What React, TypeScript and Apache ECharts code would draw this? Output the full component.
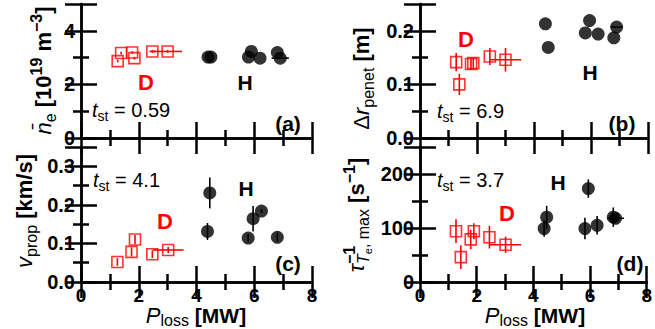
import React, { useEffect, useRef } from 'react';
import * as echarts from 'echarts';

const FONT = '"Liberation Sans", Arial, Helvetica, sans-serif';
const RED = '#ff0000';

// ---- Panel (a): line-averaged density ----
const aDx = [1.27, 1.39, 1.77, 1.85, 2.47, 3.0];
const aDy = [2.87, 3.17, 3.19, 2.98, 3.23, 3.23];
const aDxErr = [0, 0, 0, 0, 0.1, 0.5];
const aDyErr = [0.05, 0.05, 0.05, 0.05, 0.05, 0.05];
const aHx = [4.4, 4.5, 5.8, 5.9, 6.2, 6.8, 6.9];
const aHy = [3.02, 3.02, 3.02, 3.23, 2.98, 3.19, 2.98];
const aHxErr = [0, 0, 0, 0, 0, 0, 0.3];
const aHyErr = [0, 0, 0, 0, 0, 0, 0];

// ---- Panel (b): penetration depth ----
const bDx = [1.27, 1.38, 1.79, 1.87, 2.45, 3.0];
const bDy = [0.1415, 0.1, 0.138, 0.1396, 0.152, 0.146];
const bDxErr = [0, 0, 0, 0, 0, 0.55];
const bDyErr = [0.017, 0.02, 0.01, 0.01, 0.016, 0.022];
const bHx = [4.4, 4.5, 5.8, 5.95, 6.25, 6.8, 6.9];
const bHy = [0.213, 0.169, 0.196, 0.219, 0.194, 0.187, 0.207];
const bHxErr = [0, 0, 0, 0, 0, 0, 0.2];
const bHyErr = [0, 0, 0, 0, 0, 0, 0];

// ---- Panel (c): propagation velocity ----
const cDx = [1.26, 1.75, 1.87, 2.47, 3.02];
const cDy = [0.052, 0.078, 0.11, 0.072, 0.083];
const cDxErr = [0, 0, 0, 0, 0.53];
const cDyErr = [0.01, 0.012, 0.012, 0.01, 0.008];
const cHx = [4.38, 4.46, 5.79, 5.96, 6.25, 6.8];
const cHy = [0.131, 0.231, 0.114, 0.164, 0.184, 0.116];
const cHxErr = [0, 0, 0, 0, 0, 0];
const cHyErr = [0.022, 0.04, 0.01, 0.033, 0.005, 0.012];

// ---- Panel (d): inverse time scale ----
const dDx = [1.27, 1.44, 1.79, 1.9, 2.45, 3.02];
const dDy = [94, 46, 79, 94, 83, 69];
const dDxErr = [0, 0, 0, 0, 0, 0.55];
const dDyErr = [22, 22, 18, 15, 21, 15];
const dHx = [4.38, 4.47, 5.82, 5.94, 6.25, 6.82, 6.9];
const dHy = [99, 120, 99, 173, 105, 120, 118];
const dHxErr = [0, 0, 0, 0, 0, 0, 0.3];
const dHyErr = [15, 21, 20, 17, 17, 18, 0];

const xTicks = { min: 0, max: 8, interval: 2 };
const yRanges = [
  { min: 0, max: 5, interval: 2, digits: 0 },
  { min: 0, max: 0.25, interval: 0.1, digits: 1 },
  { min: 0, max: 0.35, interval: 0.1, digits: 1 },
  { min: 0, max: 250, interval: 100, digits: 0 },
];
const tstLabels = ['0.59', '6.9', '4.1', '3.7'];
const panelTags = ['(a)', '(b)', '(c)', '(d)'];

const grids = [
  { left: 81, top: 4, width: 231, height: 134 },
  { left: 420, top: 4, width: 228, height: 134 },
  { left: 81, top: 147, width: 231, height: 135 },
  { left: 420, top: 147, width: 228, height: 135 },
];

let ctx: CanvasRenderingContext2D | null = null;
function measure(text: string, size: number, weight: string, style: string) {
  if (!ctx) ctx = document.createElement('canvas').getContext('2d');
  ctx!.font = `${style} ${weight} ${size}px "Liberation Sans"`;
  return ctx!.measureText(text).width;
}

type Part = { t: string; s: number; b?: boolean; i?: boolean; dy?: number; restore?: boolean };

function richLabel(parts: Part[], x: number, y: number, vertical: boolean, center: boolean) {
  let cur = 0;
  const items: any[] = [];
  for (const p of parts) {
    const weight = p.b ? 'bold' : 'normal';
    const style = p.i ? 'italic' : 'normal';
    const w = measure(p.t, p.s, weight, style);
    items.push({
      type: 'text',
      x: cur,
      y: -0.35 * p.s + (p.dy || 0),
      style: {
        text: p.t,
        fontSize: p.s,
        fontWeight: weight,
        fontStyle: style,
        fontFamily: FONT,
        fill: '#000',
        align: 'left',
        verticalAlign: 'middle',
      },
    });
    if (!p.restore) cur += w;
  }
  const total = cur;
  if (center) items.forEach((it) => (it.x -= total / 2));
  return {
    type: 'group',
    x,
    y,
    rotation: vertical ? Math.PI / 2 : 0,
    children: items,
  };
}

const S = 22; // base label size
const SUB = 16;
const yNames = [
  [
    { t: 'n\u0304', s: S, i: true },
    { t: 'e', s: SUB, dy: 5 },
    { t: ' [10', s: S, b: true },
    { t: '19', s: SUB, b: true, dy: -9 },
    { t: ' m', s: S, b: true },
    { t: '\u22123', s: SUB, b: true, dy: -9 },
    { t: ']', s: S, b: true },
  ],
  [
    { t: '\u0394', s: S },
    { t: 'r', s: S, i: true },
    { t: 'penet', s: SUB, dy: 5 },
    { t: ' [m]', s: S, b: true },
  ],
  [
    { t: 'v', s: S, i: true },
    { t: 'prop', s: SUB, dy: 5 },
    { t: ' [km/s]', s: S, b: true },
  ],
  [
    { t: '\u03c4', s: S, i: true },
    { t: '\u22121', s: SUB, b: true, dy: -9, restore: true },
    { t: 'T', s: SUB, i: true, dy: 5 },
    { t: 'e', s: 11, dy: 8 },
    { t: ', max', s: SUB, dy: 5 },
    { t: ' [s', s: S, b: true },
    { t: '\u22121', s: SUB, b: true, dy: -9 },
    { t: ']', s: S, b: true },
  ],
];
const yNamePos = [
  [51, 70.5],
  [369, 78.5],
  [32, 211],
  [364, 215],
];
const xName = [
  { t: 'P', s: 22, i: true },
  { t: 'loss', s: 16, dy: 3 },
  { t: ' [MW]', s: 21, b: true },
];

const tags = [
  { D: [146, 82], H: [245, 82], tag: [288, 123], tst: [92, 117] },
  { D: [466, 39], H: [590, 72], tag: [622, 123], tst: [437, 118] },
  { D: [165, 221], H: [246, 188], tag: [288, 263], tst: [93, 187] },
  { D: [507, 213], H: [558, 182], tag: [630, 263], tst: [437, 187] },
];

const panels = [
  { Dx: aDx, Dy: aDy, Dxe: aDxErr, Dye: aDyErr, Hx: aHx, Hy: aHy, Hxe: aHxErr, Hye: aHyErr },
  { Dx: bDx, Dy: bDy, Dxe: bDxErr, Dye: bDyErr, Hx: bHx, Hy: bHy, Hxe: bHxErr, Hye: bHyErr },
  { Dx: cDx, Dy: cDy, Dxe: cDxErr, Dye: cDyErr, Hx: cHx, Hy: cHy, Hxe: cHxErr, Hye: cHyErr },
  { Dx: dDx, Dy: dDy, Dxe: dDxErr, Dye: dDyErr, Hx: dHx, Hy: dHy, Hxe: dHxErr, Hye: dHyErr },
];

const tickStyle = { color: '#000', width: 2.5 };

function errSeries(i: number, xs: number[], ys: number[], xe: number[], ye: number[], color: string) {
  return {
    type: 'custom',
    xAxisIndex: 2 * i,
    yAxisIndex: 2 * i,
    z: 1,
    data: xs.map((x, k) => [x, ys[k], xe[k], ye[k]]),
    encode: { x: 0, y: 1 },
    renderItem: (params: any, api: any) => {
      const x = api.value(0);
      const y = api.value(1);
      const ex = api.value(2);
      const ey = api.value(3);
      const children: any[] = [];
      const st = { stroke: color, lineWidth: 1.6 };
      if (ex > 0) {
        const p1 = api.coord([x - ex, y]);
        const p2 = api.coord([x + ex, y]);
        children.push({ type: 'line', shape: { x1: p1[0], y1: p1[1], x2: p2[0], y2: p2[1] }, style: st });
      }
      if (ey > 0) {
        const p1 = api.coord([x, y - ey]);
        const p2 = api.coord([x, y + ey]);
        children.push({ type: 'line', shape: { x1: p1[0], y1: p1[1], x2: p2[0], y2: p2[1] }, style: st });
      }
      return { type: 'group', children };
    },
  };
}

function buildOption() {
  const grid: any[] = [];
  const xAxis: any[] = [];
  const yAxis: any[] = [];
  const series: any[] = [];
  const graphic: any[] = [];

  grids.forEach((g, i) => {
    grid.push({ ...g, containLabel: false });
    const bottomLabels = i >= 2;
    const common = {
      gridIndex: i,
      axisLine: { show: true, lineStyle: tickStyle },
      axisTick: { show: true, inside: true, length: 16, lineStyle: tickStyle },
      minorTick: { show: true, splitNumber: 2, length: 8, lineStyle: tickStyle },
      splitLine: { show: false },
    };
    xAxis.push({
      ...common,
      type: 'value',
      position: 'bottom',
      ...xTicks,
      axisLabel: {
        show: bottomLabels,
        margin: 4,
        fontSize: 19,
        fontWeight: 'bold',
        fontFamily: FONT,
        color: '#000',
      },
    });
    xAxis.push({ ...common, type: 'value', position: 'top', ...xTicks, axisLabel: { show: false } });
    const yr = yRanges[i];
    yAxis.push({
      ...common,
      type: 'value',
      position: 'left',
      min: yr.min,
      max: yr.max,
      interval: yr.interval,
      axisLabel: {
        show: true,
        margin: 6,
        fontSize: 20,
        fontWeight: 'bold',
        fontFamily: FONT,
        color: '#000',
        formatter: (v: number) => (v > yr.max - 1e-9 && yr.max % yr.interval !== 0 ? '' : v.toFixed(yr.digits)),
      },
    });
    yAxis.push({
      ...common,
      type: 'value',
      position: 'right',
      min: yr.min,
      max: yr.max,
      interval: yr.interval,
      axisLabel: { show: false },
    });

    const p = panels[i];
    series.push(errSeries(i, p.Dx, p.Dy, p.Dxe, p.Dye, RED));
    series.push(errSeries(i, p.Hx, p.Hy, p.Hxe, p.Hye, '#000'));
    series.push({
      type: 'scatter',
      xAxisIndex: 2 * i,
      yAxisIndex: 2 * i,
      z: 3,
      symbol: 'rect',
      symbolSize: 11,
      itemStyle: { color: 'rgba(255,255,255,0)', borderColor: RED, borderWidth: 1.6 },
      data: p.Dx.map((x, k) => [x, p.Dy[k]]),
    });
    series.push({
      type: 'scatter',
      xAxisIndex: 2 * i,
      yAxisIndex: 2 * i,
      z: 3,
      symbol: 'circle',
      symbolSize: 13,
      itemStyle: { color: '#000' },
      data: p.Hx.map((x, k) => [x, p.Hy[k]]),
    });

    const t = tags[i];
    graphic.push({
      type: 'text', x: t.D[0], y: t.D[1],
      style: { text: 'D', fontSize: 22, fontWeight: 'bold', fontFamily: FONT, fill: RED, align: 'center', verticalAlign: 'middle' },
    });
    graphic.push({
      type: 'text', x: t.H[0], y: t.H[1],
      style: { text: 'H', fontSize: 21, fontWeight: 'bold', fontFamily: FONT, fill: '#000', align: 'center', verticalAlign: 'middle' },
    });
    graphic.push({
      type: 'text', x: t.tag[0], y: t.tag[1],
      style: { text: panelTags[i], fontSize: 21, fontWeight: 'bold', fontFamily: FONT, fill: '#000', align: 'center', verticalAlign: 'middle' },
    });
    graphic.push(
      richLabel(
        [
          { t: 't', s: 20, i: true },
          { t: 'st', s: 14, dy: 4 },
          { t: ' = ' + tstLabels[i], s: 20 },
        ],
        t.tst[0],
        t.tst[1],
        false,
        false
      )
    );
    graphic.push(richLabel(yNames[i] as Part[], yNamePos[i][0], yNamePos[i][1], true, true));
  });

  graphic.push(richLabel(xName, 196, 323, false, true));
  graphic.push(richLabel(xName, 535, 323, false, true));

  return { animation: false, grid, xAxis, yAxis, series, graphic };
}

export default function App() {
  const ref = useRef<HTMLDivElement>(null);
  useEffect(() => {
    if (!ref.current) return;
    const chart = echarts.init(ref.current, undefined, { renderer: 'svg' });
    chart.setOption(buildOption() as any);
    return () => chart.dispose();
  }, []);
  return (
    <div
      ref={ref}
      style={{ position: 'fixed', left: 0, top: 0, width: 655, height: 329, background: '#fff' }}
    />
  );
}
